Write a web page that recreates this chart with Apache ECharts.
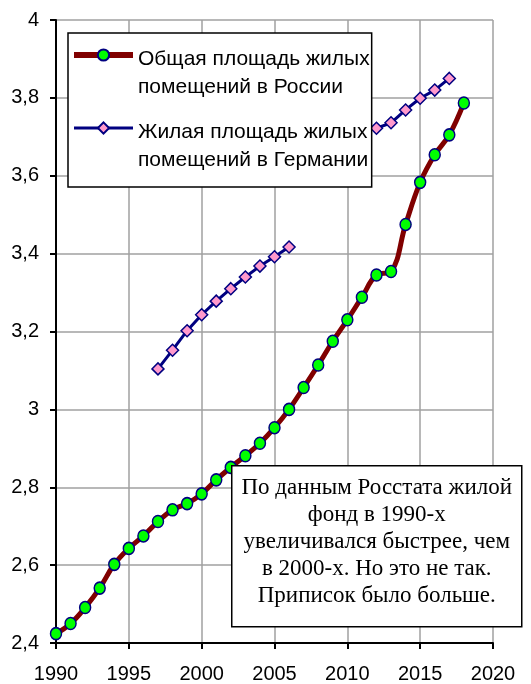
<!DOCTYPE html>
<html><head><meta charset="utf-8">
<script src="https://cdn.jsdelivr.net/npm/echarts@6/dist/echarts.min.js"></script>
<style>html,body{margin:0;padding:0;background:#fff}#c{width:531px;height:684px}</style>
</head><body><div id="c"></div>
<script>
const russiaYears = [1990,1991,1992,1993,1994,1995,1996,1997,1998,1999,2000,2001,2002,2003,2004,2005,2006,2007,2008,2009,2010,2011,2012,2013,2014,2015,2016,2017,2018];
const russiaValues = [2.424,2.450,2.491,2.541,2.602,2.643,2.675,2.712,2.742,2.758,2.783,2.819,2.851,2.881,2.913,2.953,3.000,3.056,3.114,3.175,3.230,3.288,3.345,3.354,3.475,3.583,3.654,3.705,3.787];
const germanyYears = [1997,1998,1999,2000,2001,2002,2003,2004,2005,2006,2007,2008,2009,2010,2011,2012,2013,2014,2015,2016,2017];
const germanyValues = [3.104,3.152,3.202,3.243,3.278,3.310,3.340,3.368,3.392,3.417,null,null,null,null,null,3.722,3.736,3.769,3.799,3.820,3.850];
const seriesNames = ['Общая площадь жилых\nпомещений в России','Жилая площадь жилых\nпомещений в Германии'];
const noteText = 'По данным Росстата жилой\nфонд в 1990-х\nувеличивался быстрее, чем\nв 2000-х. Но это не так.\nПриписок было больше.';

const chart = echarts.init(document.getElementById('c'));
const sans = 'Liberation Sans, Arial, sans-serif';
chart.setOption({
  animation: false,
  backgroundColor: '#fff',
  grid: {left: 56, right: 38, top: 20, bottom: 41},
  xAxis: {
    type: 'value', min: 1990, max: 2020, interval: 5,
    axisLine: {show: true, onZero: false, lineStyle: {color: '#000', width: 2}},
    axisTick: {show: true, length: 6, lineStyle: {color: '#000', width: 2}},
    axisLabel: {color: '#000', fontFamily: sans, fontSize: 20, margin: 21, formatter: v => String(v)},
    splitLine: {show: true, lineStyle: {color: '#a0a0a0', width: 1.5}}
  },
  yAxis: {
    type: 'value', min: 2.4, max: 4, interval: 0.2,
    axisLine: {show: true, lineStyle: {color: '#000', width: 2}},
    axisTick: {show: true, length: 6, lineStyle: {color: '#000', width: 2}},
    axisLabel: {color: '#000', fontFamily: sans, fontSize: 20, margin: 17,
      formatter: v => String(Math.round(v*10)/10).replace('.', ',')},
    splitLine: {show: true, lineStyle: {color: '#a0a0a0', width: 1.5}}
  },
  legend: {
    orient: 'vertical', left: 68, top: 33,
    backgroundColor: '#fff', borderColor: '#000', borderWidth: 1.5,
    padding: [-24, 2, 13, 3], itemGap: -19, itemWidth: 59, itemHeight: 14,
    formatter: name => '{e|}\n' + name.split('\n').map(s => '{t|' + s + '}').join('\n'),
    textStyle: {
      color: '#000', fontFamily: sans, fontSize: 21, lineHeight: 28,
      rich: {
        e: {fontSize: 21, lineHeight: 36, fontFamily: sans},
        t: {fontSize: 21, lineHeight: 28, fontFamily: sans, color: '#000'}
      }
    },
    data: [
      {name: seriesNames[0], lineStyle: {width: 6}},
      {name: seriesNames[1], lineStyle: {width: 3}}
    ]
  },
  series: [
    {
      name: seriesNames[0], type: 'line', smooth: 0.4,
      data: russiaYears.map((y, i) => [y, russiaValues[i]]),
      lineStyle: {color: '#800000', width: 5},
      itemStyle: {color: '#00ff00', borderColor: '#000080', borderWidth: 1.5},
      symbol: 'circle', symbolSize: [11, 12], z: 3
    },
    {
      name: seriesNames[1], type: 'line', connectNulls: false,
      data: germanyYears.map((y, i) => [y, germanyValues[i]]),
      lineStyle: {color: '#000080', width: 3},
      itemStyle: {color: '#ff99cc', borderColor: '#000080', borderWidth: 1.5},
      symbol: 'diamond', symbolSize: 12, z: 2
    }
  ],
  graphic: [{
    type: 'group', left: 231, top: 465, z: 100,
    children: [
      {type: 'rect', z: 100, shape: {x: 0, y: 0, width: 290, height: 161},
       style: {fill: '#fff', stroke: '#000', lineWidth: 1.5}},
      {type: 'text', z: 101, x: 145, y: 76,
       style: {text: noteText, fill: '#000', font: '23px "Liberation Serif", "Times New Roman", serif',
         align: 'center', verticalAlign: 'middle', lineHeight: 27}}
    ]
  }]
});
</script>
</body></html>
